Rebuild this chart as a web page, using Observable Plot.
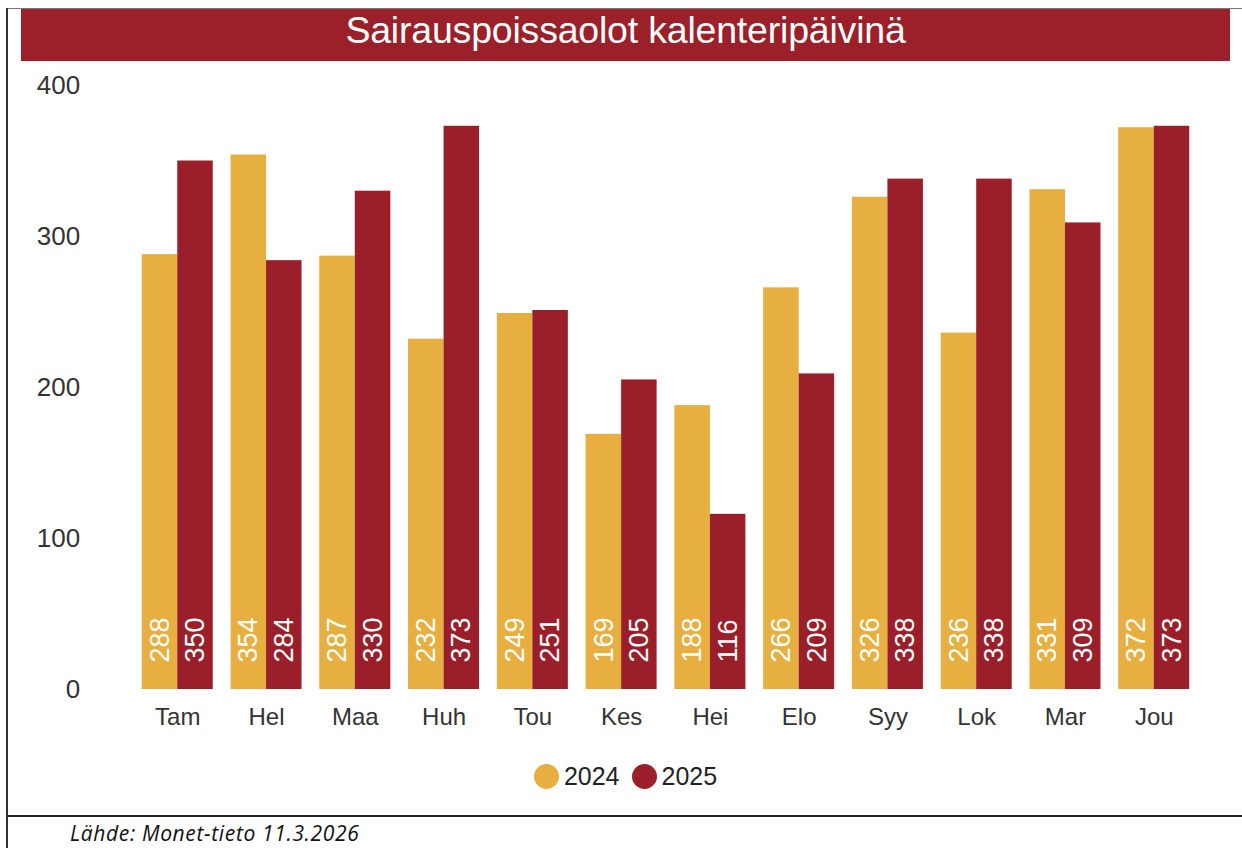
<!DOCTYPE html>
<html>
<head>
<meta charset="utf-8">
<script src="https://cdn.jsdelivr.net/npm/d3@7"></script>
<script src="https://cdn.jsdelivr.net/npm/@observablehq/plot@0.6"></script>
<style>
  html, body { margin: 0; padding: 0; background: #ffffff; }
  #page { position: relative; width: 1242px; height: 848px; overflow: hidden; background: #ffffff; font-family: "Liberation Sans", Arial, sans-serif; }
  .line { position: absolute; }
  #title { position: absolute; left: 21px; top: 9px; width: 1209px; height: 52px; background: #9B2029; color: #ffffff; font-size: 37.5px; line-height: 42px; text-align: center; letter-spacing: -0.2px; }
  #chart { position: absolute; left: 0; top: 61px; }
  #legend { position: absolute; left: 21px; width: 1209px; top: 762px; height: 28px; display: flex; justify-content: center; align-items: center; font-size: 25px; color: #222; }
  .sw { display: inline-block; width: 25px; height: 25px; border-radius: 50%; margin-right: 5px; }
  .item { display: inline-flex; align-items: center; margin: 0 6px 0 6px; }
  #caption { position: absolute; left: 70px; top: 819px; font-family: "Open Sans", "Noto Sans", sans-serif; font-style: italic; font-size: 21px; letter-spacing: 0.65px; color: #111; }
</style>
</head>
<body>
<div id="page">
  <div class="line" style="left:7px; top:8px; width:1235px; height:1px; background:#777;"></div>
  <div class="line" style="left:6px; top:8px; width:2px; height:840px; background:#333;"></div>
  <div class="line" style="left:7px; top:815px; width:1235px; height:2px; background:#222;"></div>
  <div id="title">Sairauspoissaolot kalenteripäivinä</div>
  <div id="chart"></div>
  <div id="legend"></div>
  <div id="caption">Lähde: Monet-tieto 11.3.2026</div>
</div>
<script>
const months = ["Tam", "Hel", "Maa", "Huh", "Tou", "Kes", "Hei", "Elo", "Syy", "Lok", "Mar", "Jou"];
const years = ["2024", "2025"];
const values2024 = [288, 354, 287, 232, 249, 169, 188, 266, 326, 236, 331, 372];
const values2025 = [350, 284, 330, 373, 251, 205, 116, 209, 338, 338, 309, 373];
const yTicks = [0, 100, 200, 300, 400];
const colors = ["#E6AF3F", "#9B1F2A"];

const data = [];
months.forEach((m, i) => {
  data.push({month: m, year: years[0], value: values2024[i]});
  data.push({month: m, year: years[1], value: values2025[i]});
});

const chart = Plot.plot({
  width: 1242,
  height: 680,
  marginLeft: 124,
  marginRight: 35,
  marginTop: 24,
  marginBottom: 52,
  style: {fontFamily: "'Liberation Sans', Arial, sans-serif", background: "transparent", color: "#333"},
  fx: {domain: months, paddingInner: 0.2, paddingOuter: 0.2, round: false, label: null},
  x: {domain: years, padding: 0, round: false, axis: null},
  y: {domain: [0, 400], label: null},
  color: {domain: years, range: colors},
  marks: [
    Plot.axisY({ticks: yTicks, tickSize: 0, tickPadding: 62, label: null, fontSize: 26, fill: "#333"}),
    Plot.axisFx({anchor: "bottom", tickSize: 0, tickPadding: 18, label: null, fontSize: 24, fill: "#333"}),
    Plot.barY(data, {fx: "month", x: "year", y: "value", fill: "year"}),
    Plot.text(data, {fx: "month", x: "year", y: 0, text: d => String(d.value), rotate: -90, textAnchor: "start", dy: -27, fill: "white", fontSize: 27})
  ]
});
document.getElementById("chart").appendChild(chart);

const legend = document.getElementById("legend");
years.forEach((y, i) => {
  const item = document.createElement("span");
  item.className = "item";
  const sw = document.createElement("span");
  sw.className = "sw";
  sw.style.background = colors[i];
  item.appendChild(sw);
  const t = document.createElement("span");
  t.textContent = y;
  item.appendChild(t);
  legend.appendChild(item);
});
</script>
</body>
</html>
